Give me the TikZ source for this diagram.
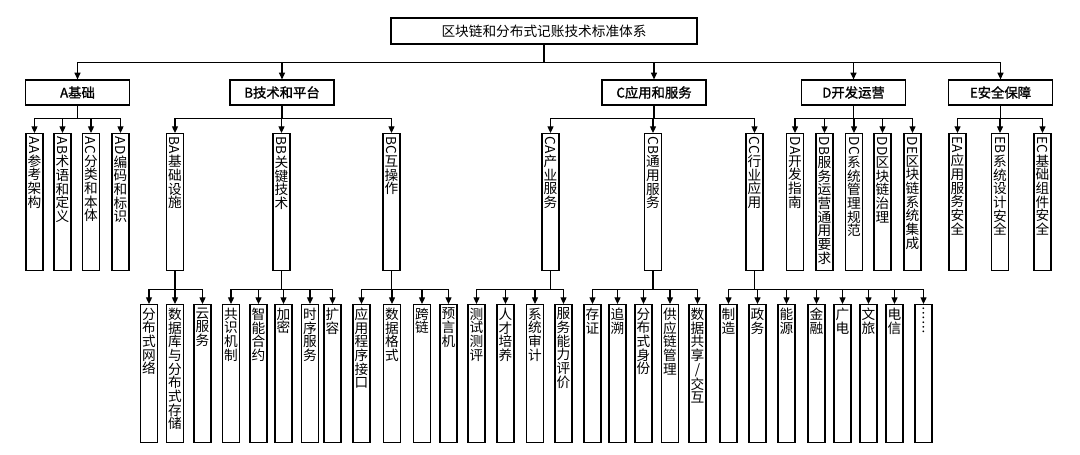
\documentclass[tikz,border=0pt]{standalone}
\usepackage{fontspec}
\setmainfont{Noto Sans CJK SC}
\newfontfamily\semibold[FakeBold=1.3]{Noto Sans CJK SC}
\usepackage{graphicx}
\usetikzlibrary{arrows.meta}

% vertical label: rotated Latin prefix, then upright characters one per line
\makeatletter
\def\vc@stack#1{\ifx\relax#1\else\hbox to\hsize{\hss#1\hss}\expandafter\vc@stack\fi}
\newcommand\vtxt[2]{\vtop{\kern0pt\hsize=12pt\baselineskip=10.25pt\lineskiplimit=0pt\lineskip=0.8pt
  \ifx\relax#1\relax\else\hbox to\hsize{\hss\rotatebox{-90}{#1}\hss}\fi
  \vc@stack#2\relax}}
\makeatother

\tikzset{
  topbox/.style={draw, line width=0.9pt, inner sep=0pt, minimum height=19.5pt, minimum width=229.5pt},
  groupbox/.style={draw, line width=0.9pt, inner sep=0pt, minimum height=18.75pt, minimum width=78pt, font=\semibold},
  colbox/.style={draw, line width=0.9pt, inner xsep=0pt, inner ysep=2.5pt, minimum width=12.75pt,
    text height=0pt, text depth=#1, anchor=north},
  link/.style={line width=0.9pt, -{Triangle[width=4.5pt,length=5pt]}},
}

\begin{document}
\begin{tikzpicture}[x=0.75pt, y=-0.75pt, font=\fontsize{10.25pt}{12pt}\selectfont]
    \useasboundingbox (0,0) rectangle (1080,454);

    % --- Root ---
    \node[topbox] (root) at (544,31) {区块链和分布式记账技术标准体系};

    % --- Level 1: five parts ---
    \node[groupbox] (A) at (77.5,92.5) {A基础};
    \node[groupbox] (B) at (282,92.5) {B技术和平台};
    \node[groupbox] (C) at (654,92.5) {C应用和服务};
    \node[groupbox] (D) at (853.5,92.5) {D开发运营};
    \node[groupbox] (E) at (1000.5,92.5) {E安全保障};

    % --- Level 2 ---
    \node[colbox=97.75pt] (AA) at (34.5,133) {\vtxt{AA}{参考架构}};
    \node[colbox=97.75pt] (AB) at (62.5,133) {\vtxt{AB}{术语和定义}};
    \node[colbox=97.75pt] (AC) at (91,133) {\vtxt{AC}{分类和本体}};
    \node[colbox=97.75pt] (AD) at (120.5,133) {\vtxt{AD}{编码和标识}};

    \node[colbox=97.75pt] (BA) at (175,133) {\vtxt{BA}{基础设施}};
    \node[colbox=97.75pt] (BB) at (281.5,133) {\vtxt{BB}{关键技术}};
    \node[colbox=97.75pt] (BC) at (391.5,133) {\vtxt{BC}{互操作}};

    \node[colbox=97.75pt] (CA) at (550.5,133) {\vtxt{CA}{产业服务}};
    \node[colbox=97.75pt] (CB) at (653,133) {\vtxt{CB}{通用服务}};
    \node[colbox=97.75pt] (CC) at (754.5,133) {\vtxt{CC}{行业应用}};

    \node[colbox=97.75pt] (DA) at (795,133) {\vtxt{DA}{开发指南}};
    \node[colbox=97.75pt] (DB) at (824.5,133) {\vtxt{DB}{服务运营通用要求}};
    \node[colbox=97.75pt] (DC) at (854,133) {\vtxt{DC}{系统管理规范}};
    \node[colbox=97.75pt] (DD) at (882.5,133) {\vtxt{DD}{区块链治理}};
    \node[colbox=97.75pt] (DE) at (912.5,133) {\vtxt{DE}{区块链系统集成}};

    \node[colbox=97.75pt] (EA) at (957.5,133) {\vtxt{EA}{应用服务安全}};
    \node[colbox=97.75pt] (EB) at (1000,133) {\vtxt{EB}{系统设计安全}};
    \node[colbox=97.75pt] (EC) at (1042.5,133) {\vtxt{EC}{基础组件安全}};

    % --- Level 3 ---
    \node[colbox=98.5pt] (BA1) at (149,304) {\vtxt{}{分布式网络}};
    \node[colbox=98.5pt] (BA2) at (175,304) {\vtxt{}{数据库与分布式存储}};
    \node[colbox=98.5pt] (BA3) at (202.5,304) {\vtxt{}{云服务}};

    \node[colbox=98.5pt] (BB1) at (231,304) {\vtxt{}{共识机制}};
    \node[colbox=98.5pt] (BB2) at (258.5,304) {\vtxt{}{智能合约}};
    \node[colbox=98.5pt] (BB3) at (283.5,304) {\vtxt{}{加密}};
    \node[colbox=98.5pt] (BB4) at (310,304) {\vtxt{}{时序服务}};
    \node[colbox=98.5pt] (BB5) at (332.5,304) {\vtxt{}{扩容}};

    \node[colbox=98.5pt] (BC1) at (361.5,304) {\vtxt{}{应用程序接口}};
    \node[colbox=98.5pt] (BC2) at (392,304) {\vtxt{}{数据格式}};
    \node[colbox=98.5pt] (BC3) at (422,304) {\vtxt{}{跨链}};
    \node[colbox=98.5pt] (BC4) at (448.5,304) {\vtxt{}{预言机}};

    \node[colbox=98.5pt] (CA1) at (476.5,304) {\vtxt{}{测试测评}};
    \node[colbox=98.5pt] (CA2) at (505.5,304) {\vtxt{}{人才培养}};
    \node[colbox=98.5pt] (CA3) at (535,304) {\vtxt{}{系统审计}};
    \node[colbox=98.5pt] (CA4) at (563.5,304) {\vtxt{}{服务能力评价}};

    \node[colbox=98.5pt] (CB1) at (592.5,304) {\vtxt{}{存证}};
    \node[colbox=98.5pt] (CB2) at (617.5,304) {\vtxt{}{追溯}};
    \node[colbox=98.5pt] (CB3) at (643.5,304) {\vtxt{}{分布式身份}};
    \node[colbox=98.5pt] (CB4) at (670,304) {\vtxt{}{供应链管理}};
    \node[colbox=98.5pt] (CB5) at (697.5,304) {\vtxt{}{数据共享/交互}};

    \node[colbox=98.5pt] (CC1) at (728.5,304) {\vtxt{}{制造}};
    \node[colbox=98.5pt] (CC2) at (757.5,304) {\vtxt{}{政务}};
    \node[colbox=98.5pt] (CC3) at (786.5,304) {\vtxt{}{能源}};
    \node[colbox=98.5pt] (CC4) at (816.5,304) {\vtxt{}{金融}};
    \node[colbox=98.5pt] (CC5) at (842.5,304) {\vtxt{}{广电}};
    \node[colbox=98.5pt] (CC6) at (868.5,304) {\vtxt{}{文旅}};
    \node[colbox=98.5pt] (CC7) at (894.5,304) {\vtxt{}{电信}};
    \node[colbox=98.5pt] (CC8) at (923.5,304) {\vtxt{}{︙︙}};

    % --- Connectors (stem, bus, arrow) ---
    \foreach \c in {A,B,C,D,E}
        \draw[link] (root.south) -- ++(0,18) -| (\c.north);
    \foreach \p/\kids in {A/{AA,AB,AC,AD}, B/{BA,BB,BC}, C/{CA,CB,CC}, D/{DA,DB,DC,DD,DE}, E/{EA,EB,EC}}
        \foreach \c in \kids
            \draw[link] (\p.south) -- ++(0,13) -| (\c.north);
    \foreach \p/\n in {BA/3, BB/5, BC/4, CA/4, CB/5, CC/8}
        \foreach \i in {1,...,\n}
            \draw[link] (\p.south) -- ++(0,18) -| (\p\i.north);
\end{tikzpicture}
\end{document}
